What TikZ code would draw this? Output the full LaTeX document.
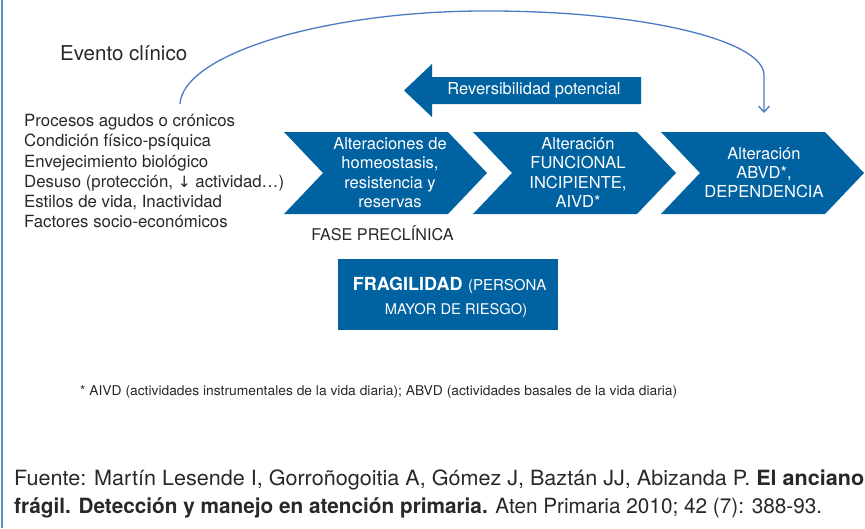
\documentclass[tikz,border=0pt]{standalone}
\usepackage{fontspec}
\setmainfont{TeX Gyre Heros}
\newfontfamily\symf{DejaVu Sans}
\usepackage{graphicx}
\usetikzlibrary{arrows.meta}
\definecolor{chev}{RGB}{0,98,160}
\definecolor{curv}{RGB}{74,123,196}
\definecolor{txt}{RGB}{40,40,40}
\definecolor{edgeblue}{RGB}{90,140,200}
\begin{document}
\begin{tikzpicture}[x=1pt,y=-1pt,
  chevshape/.style={fill=chev,draw=none},
  wt/.style={text=white,font=\fontsize{16.5}{19.3}\selectfont,align=center,inner sep=0pt},
  lst/.style={text=txt,font=\fontsize{16.8}{20}\selectfont,anchor=base west,inner sep=0pt},
  plain/.style={text=txt,inner sep=0pt},
  curvearrow/.style={draw=curv,line width=1.3pt,-{Straight Barb[length=6pt,width=11pt]}}
  ]
\useasboundingbox (0,0) rectangle (865,528);
\draw[edgeblue,line width=1.5pt] (2,0) -- (2,528);

% chevrons
\foreach \L in {284,473,661}
  \fill[chevshape] (\L,132) -- ++(164,0) -- ++(39,41) -- ++(-39,41) -- ++(-164,0) -- ++(39,-41) -- cycle;
\node[wt] (t1) at (390,172.5) {Alteraciones de\\homeostasis,\\resistencia y\\reservas};
\node[wt] (t2) at (578,172.5) {Alteración\\FUNCIONAL\\INCIPIENTE,\\AIVD*};
\node[wt] (t3) at (764,172.5) {Alteración\\ABVD*,\\DEPENDENCIA};

% reversibility arrow
\fill[chevshape] (404,90.5) -- (432,64) -- (432,77) -- (641,77) -- (641,104) -- (432,104) -- (432,117) -- cycle;
\node[wt] (rev) at (534,90) {Reversibilidad potencial};

% fase preclinica
\node[plain,font=\fontsize{16.2}{18}\selectfont] (fase) at (382.5,233) {FASE PRECLÍNICA};

% fragilidad box
\fill[chevshape] (338,259) rectangle (558,330);
\node[text=white,inner sep=0pt,anchor=base] (f1) at (449.5,290)
  {{\fontsize{18}{20}\selectfont\bfseries FRAGILIDAD}\ \ {\fontsize{15}{17}\selectfont (PERSONA}};
\node[text=white,inner sep=0pt,anchor=base,font=\fontsize{14.7}{17}\selectfont] (f2) at (456,314) {MAYOR DE RIESGO)};

% evento clinico
\node[plain,anchor=base west,font=\fontsize{20.5}{22}\selectfont] (ev) at (60,60) {Evento clínico};

% list
\node[lst] (l1) at (24,126) {Procesos agudos o crónicos};
\node[lst] (l2) at (24,146.5) {Condición físico-psíquica};
\node[lst] (l3) at (24,167) {Envejecimiento biológico};
\node[lst] (l4) at (24,187) {Desuso (protección, {\symf\fontsize{15.5}{17}\selectfont ↓} actividad…)};
\node[lst] (l5) at (24,207) {Estilos de vida, Inactividad};
\node[lst] (l6) at (24,227.5) {Factores socio-económicos};

% curved arrow
\coordinate (cs) at (180,104);
\coordinate (ce) at (764,113);
\draw[curvearrow] (cs) .. controls (183,55) and (320,12) .. (480,11)
  .. controls (640,10) and (764,40) .. (764,75) -- (ce);

% footnote
\node[plain,anchor=base west,font=\fontsize{13.5}{15}\selectfont] (fn) at (80,395)
  {\resizebox{597pt}{\height}{* AIVD (actividades instrumentales de la vida diaria); ABVD (actividades basales de la vida diaria)}};

% source
\node[plain,anchor=base west,font=\fontsize{21}{23}\selectfont] (src1) at (14,485)
  {\resizebox{850pt}{\height}{Fuente: Martín Lesende I, Gorroñogoitia A, Gómez J, Baztán JJ, Abizanda P. \textbf{El anciano}}};
\node[plain,anchor=base west,font=\fontsize{21}{23}\selectfont] (src2) at (14,513)
  {\resizebox{808pt}{\height}{\textbf{frágil. Detección y manejo en atención primaria.} Aten Primaria 2010; 42 (7): 388-93.}};
\end{tikzpicture}
\end{document}
